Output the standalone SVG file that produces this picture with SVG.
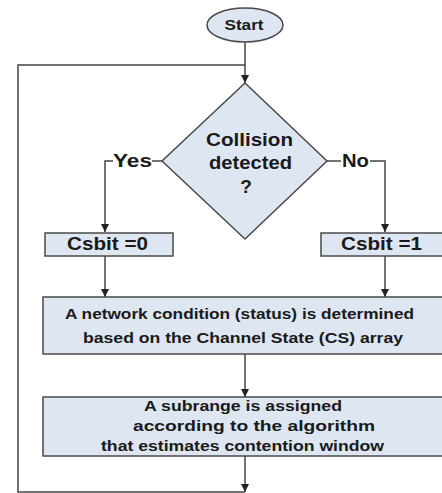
<svg xmlns="http://www.w3.org/2000/svg" width="442" height="493" viewBox="0 0 442 493">
<style>
.shape{fill:#dde6f1;stroke:#4a4a4a;stroke-width:1.5}
.edge{fill:none;stroke:#444;stroke-width:1.5}
text{font-family:"Liberation Sans",Arial,sans-serif;font-weight:bold;fill:#1a1a1a;text-anchor:middle}
.big{font-size:19px}
.mid{font-size:18px}
.sm{font-size:15px}
.lbl{font-size:18px}
</style>
<defs>
<marker id="arr" viewBox="0 0 10 10" refX="10" refY="5" markerWidth="8" markerHeight="8" markerUnits="userSpaceOnUse" orient="auto">
<path d="M0,0 L10,5 L0,10 z" fill="#222"/>
</marker>
</defs>
<rect width="442" height="493" fill="#fff"/>
<g id="connectors">
<line class="edge" x1="245" y1="42" x2="245" y2="83" marker-end="url(#arr)"/>
<polyline class="edge" points="245,492 18,492 18,65 245,65"/>
<polyline class="edge" points="162,161 152,161"/>
<polyline class="edge" points="113,161 105,161 105,232" marker-end="url(#arr)"/>
<polyline class="edge" points="327,161 341,161"/>
<polyline class="edge" points="370,161 385,161 385,232" marker-end="url(#arr)"/>
<line class="edge" x1="105" y1="256" x2="105" y2="297" marker-end="url(#arr)"/>
<line class="edge" x1="385" y1="256" x2="385" y2="297" marker-end="url(#arr)"/>
<line class="edge" x1="245" y1="354" x2="245" y2="397" marker-end="url(#arr)"/>
<line class="edge" x1="245" y1="456" x2="245" y2="492" marker-end="url(#arr)"/>
<text class="lbl" x="132.5" y="167" textLength="39" lengthAdjust="spacingAndGlyphs">Yes</text>
<text class="lbl" x="355.5" y="167" textLength="27" lengthAdjust="spacingAndGlyphs">No</text>
</g>
<g id="start">
<ellipse class="shape" cx="245" cy="25" rx="38" ry="17"/>
<text x="244" y="29.5" style="font-size:15px" textLength="39" lengthAdjust="spacingAndGlyphs">Start</text>
</g>
<g id="decision">
<polygon class="shape" points="245,83 327,161 245,239 162,161"/>
<text class="big" x="249.5" y="146" textLength="87" lengthAdjust="spacingAndGlyphs">Collision</text>
<text class="big" x="250.5" y="169" textLength="83" lengthAdjust="spacingAndGlyphs">detected</text>
<text class="big" x="246" y="193">?</text>
</g>
<g id="csbit0">
<rect class="shape" x="45" y="233" width="128" height="23"/>
<text class="mid" x="107.5" y="250" textLength="81" lengthAdjust="spacingAndGlyphs">Csbit =0</text>
</g>
<g id="csbit1">
<rect class="shape" x="321" y="233" width="125" height="23"/>
<text class="mid" x="381.5" y="250" textLength="81" lengthAdjust="spacingAndGlyphs">Csbit =1</text>
</g>
<g id="network">
<rect class="shape" x="43" y="297" width="403" height="57"/>
<text class="sm" x="239.5" y="319" textLength="349" lengthAdjust="spacingAndGlyphs">A network condition (status) is determined</text>
<text class="sm" x="243" y="343" textLength="320" lengthAdjust="spacingAndGlyphs">based on the Channel State (CS) array</text>
</g>
<g id="subrange">
<rect class="shape" x="43" y="397" width="403" height="59"/>
<text class="sm" x="243" y="411" textLength="198" lengthAdjust="spacingAndGlyphs">A subrange is assigned</text>
<text class="sm" x="254" y="431" textLength="242" lengthAdjust="spacingAndGlyphs">according to the algorithm</text>
<text class="sm" x="242.5" y="451" textLength="283" lengthAdjust="spacingAndGlyphs">that estimates contention window</text>
</g>
</svg>
